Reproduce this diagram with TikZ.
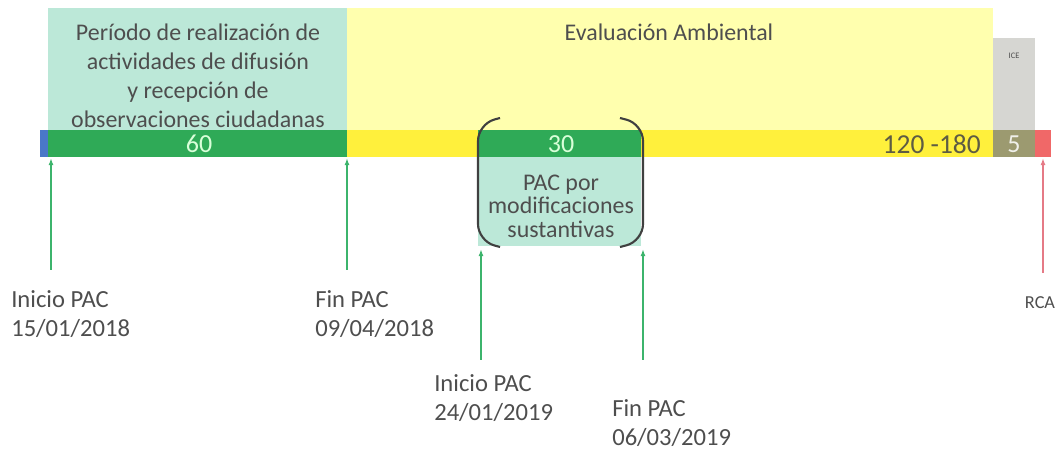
\documentclass[tikz,border=0pt]{standalone}
\usepackage{fontspec}
\setmainfont{Carlito}
\usetikzlibrary{arrows.meta}

\definecolor{cyanbg}{HTML}{BCE8D8}
\definecolor{yellowbg}{HTML}{FFFFAE}
\definecolor{baryellow}{HTML}{FFF03C}
\definecolor{bargreen}{HTML}{2FAA57}
\definecolor{barblue}{HTML}{4A78C8}
\definecolor{icegray}{HTML}{D6D6D2}
\definecolor{olive}{HTML}{9C9A70}
\definecolor{barred}{HTML}{F06868}
\definecolor{arrgreen}{HTML}{3CB46C}
\definecolor{arrred}{HTML}{E57A86}
\definecolor{txtgray}{HTML}{4E4E4E}

\begin{document}
\begin{tikzpicture}[x=0.025cm,y=-0.025cm,
    txt/.style={text=txtgray,font=\fontsize{17}{20.5}\selectfont,align=center,inner sep=0pt},
    datelbl/.style={text=txtgray,font=\fontsize{17.5}{20}\selectfont,align=left,inner sep=0pt,anchor=west},
    pacarrow/.style={-{Latex[length=5pt,width=3.5pt]},line width=1.3pt,arrgreen}]
\useasboundingbox (0,0) rectangle (1058,457);

% upper boxes
\fill[cyanbg] (48,8) rectangle (347,130);
\fill[yellowbg] (347,8) rectangle (993,130);
\fill[icegray] (993,38) rectangle (1035,130);
\node[txt] (difusion) at (198,76) {Período de realización de\\actividades de difusión\\y recepción de\\observaciones ciudadanas};
\node[txt] (evaluacion) at (669,32) {Evaluación Ambiental};
\node[text=txtgray,font=\fontsize{6}{7}\selectfont,inner sep=0pt] (ice) at (1014,56) {ICE};

% time line
\fill[barblue] (40,130) rectangle (48,157);
\fill[bargreen] (48,130) rectangle (347,157);
\fill[baryellow] (347,130) rectangle (993,157);
\fill[bargreen] (478,130) rectangle (641,157);
\fill[olive] (993,130) rectangle (1035,157);
\fill[barred] (1035,130) rectangle (1051,157);
\node[txt,font=\fontsize{18.5}{20}\selectfont,text=green!15!white] (d60) at (199,144) {60};
\node[txt,font=\fontsize{18.5}{20}\selectfont,text=green!15!white] (d30) at (561,144) {30};
\node[txt,font=\fontsize{19.5}{20}\selectfont,text=olive!60!black,anchor=east] (d120) at (981,144) {120 -180};
\node[txt,font=\fontsize{18.5}{20}\selectfont,text=white!85!olive] (d5) at (1014,144) {5};

% PAC por modificaciones
\fill[cyanbg] (478,157) rectangle (641,246);
\node[txt,font=\fontsize{17}{16.8}\selectfont] (modif) at (561,206) {PAC por\\modificaciones\\sustantivas};
\draw[line width=1.5pt,black!75,rounded corners=12pt] (500,118) -- (478,124) -- (478,241) -- (500,247);
\draw[line width=1.5pt,black!75,rounded corners=12pt] (620,118) -- (643,124) -- (643,241) -- (620,247);

% dates
\coordinate (a1) at (51,270);  \coordinate (b1) at (51,158);
\coordinate (a2) at (347,270); \coordinate (b2) at (347,158);
\coordinate (a3) at (481,360); \coordinate (b3) at (481,249);
\coordinate (a4) at (643,360); \coordinate (b4) at (643,249);
\coordinate (a5) at (1043,273); \coordinate (b5) at (1043,158);
\draw[pacarrow] (a1) -- (b1);
\draw[pacarrow] (a2) -- (b2);
\draw[pacarrow] (a3) -- (b3);
\draw[pacarrow] (a4) -- (b4);
\draw[pacarrow,arrred] (a5) -- (b5);

\node[datelbl] (inicio1) at (11,314) {Inicio PAC\\15/01/2018};
\node[datelbl] (fin1) at (315,314) {Fin PAC\\09/04/2018};
\node[datelbl] (inicio2) at (434,398) {Inicio PAC\\24/01/2019};
\node[datelbl] (fin2) at (612,423) {Fin PAC\\06/03/2019};
\node[text=txtgray,font=\fontsize{13}{16}\selectfont,inner sep=0pt] (rca) at (1040,303) {RCA};
\end{tikzpicture}
\end{document}
